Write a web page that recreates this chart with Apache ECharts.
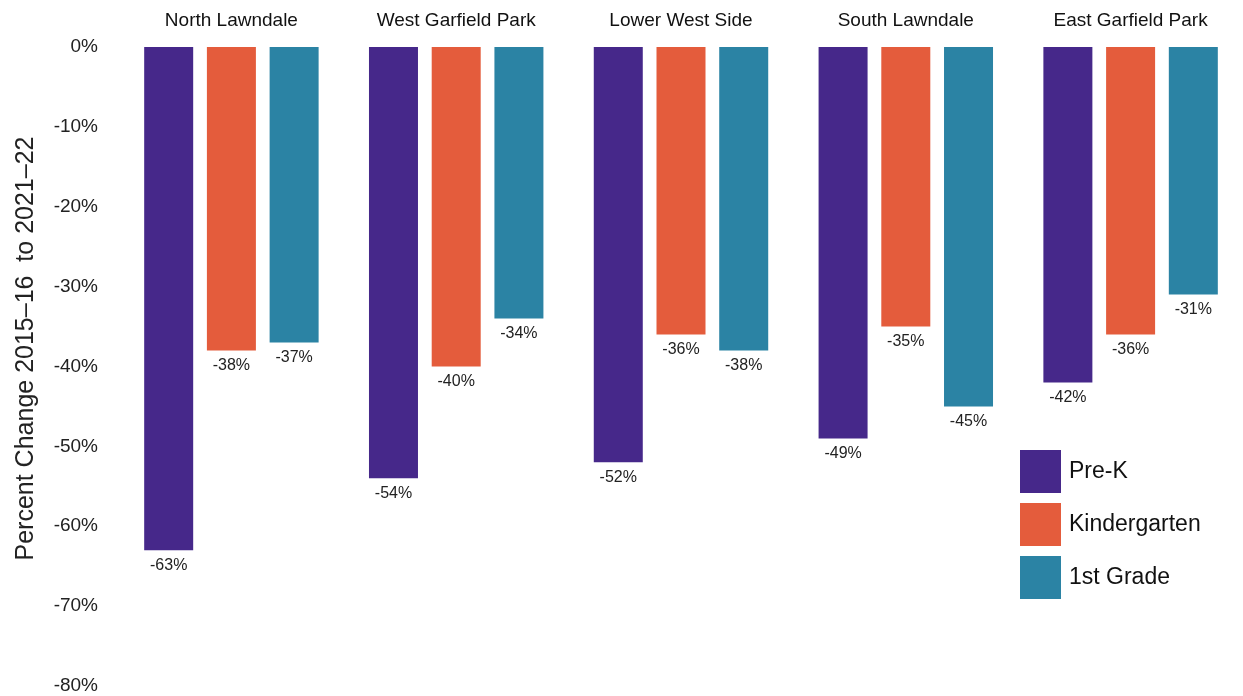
<!DOCTYPE html>
<html><head><meta charset="utf-8">
<script src="https://cdn.jsdelivr.net/npm/echarts@6/dist/echarts.min.js"></script>
<style>html,body{margin:0;padding:0;background:#fff}#c{width:1243px;height:696px}</style>
</head><body><div id="c"></div>
<script>
const categories = ["North Lawndale", "West Garfield Park", "Lower West Side", "South Lawndale", "East Garfield Park"];
const preK = [-63, -54, -52, -49, -42];
const kindergarten = [-38, -40, -36, -35, -36];
const firstGrade = [-37, -34, -38, -45, -31];
const seriesNames = ["Pre-K", "Kindergarten", "1st Grade"];
const colors = ["#46288a", "#e45c3c", "#2b83a4"];

const chart = echarts.init(document.getElementById('c'));
const labelOpt = {show: true, position: 'bottom', distance: 7, formatter: p => p.value + '%', color: '#222', fontSize: 16, fontFamily: 'Liberation Sans, Arial, sans-serif'};
const mk = (name, data, i) => ({
  name, type: 'bar', data, barWidth: 49, barGap: '28%',
  itemStyle: {color: colors[i]}, label: labelOpt
});
chart.setOption({
  animation: false,
  textStyle: {fontFamily: 'Liberation Sans, Arial, sans-serif'},
  grid: {left: 119, right: 0, top: 47, bottom: 10, containLabel: false},
  legend: {
    orient: 'vertical', left: 1015, top: 445, itemWidth: 41, itemHeight: 43, itemGap: 10,
    icon: 'rect', data: seriesNames,
    textStyle: {fontSize: 23, color: '#111', padding: [0, 0, 0, 3]}
  },
  xAxis: {
    type: 'category', data: categories, position: 'top',
    axisLine: {show: false}, axisTick: {show: false},
    axisLabel: {fontSize: 19, color: '#111', margin: 17}
  },
  yAxis: {
    type: 'value', min: -80, max: 0, interval: 10,
    axisLine: {show: false}, axisTick: {show: false}, splitLine: {show: false},
    axisLabel: {formatter: '{value}%', fontSize: 19, color: '#222', margin: 21},
    name: 'Percent Change 2015\u201316  to 2021\u201322', nameLocation: 'middle', nameGap: 80,
    nameTextStyle: {fontSize: 25, color: '#222', padding: [0, 0, 0, 36]}
  },
  series: [mk(seriesNames[0], preK, 0), mk(seriesNames[1], kindergarten, 1), mk(seriesNames[2], firstGrade, 2)]
});
</script></body></html>
